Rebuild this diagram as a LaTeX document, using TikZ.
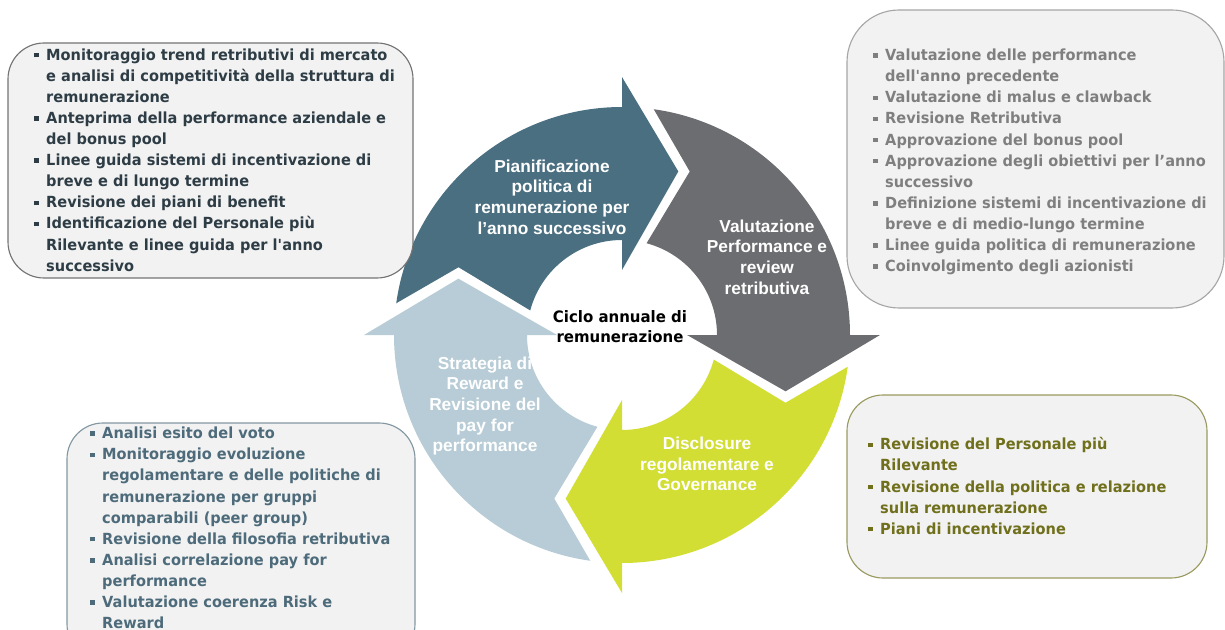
\documentclass[tikz,border=0pt]{standalone}
\usepackage{fontspec}
\setmainfont{Liberation Sans}
\newfontfamily\tahoma{DejaVu Sans}[FakeStretch=0.95]
\usepackage{tikz}
\usetikzlibrary{positioning}

\definecolor{cteal}{HTML}{4A6F81}
\definecolor{cgray}{HTML}{6C6D70}
\definecolor{cyellow}{HTML}{D3DE34}
\definecolor{cblue}{HTML}{B7CCD6}
\definecolor{panelfill}{HTML}{F2F2F2}
\definecolor{tltext}{HTML}{2E3D45}
\definecolor{trtext}{HTML}{7F7F7F}
\definecolor{bltext}{HTML}{4D6B7A}
\definecolor{brtext}{HTML}{6F6F1C}

\newcommand{\bl}{\makebox[8.5pt][l]{\rule[2pt]{3.2pt}{3.2pt}}}
\newcommand{\ind}{\hspace*{8.5pt}}

\tikzset{
  panel/.style={fill=panelfill, line width=0.8pt, rounded corners=0.9cm},
  bultext/.style={font={\tahoma\bfseries\fontsize{10.9}{15}\selectfont},
    align=left, inner sep=0pt, anchor=west},
  arrowtext/.style={text=white, align=center, inner sep=0pt,
    font={\bfseries\fontsize{12.3}{14.7}\selectfont}}
}

\begin{document}
\begin{tikzpicture}[x=0.025cm,y=-0.025cm]
\useasboundingbox (0,0) rectangle (1225,630);

% the cycle
\begin{scope}[shift={(622,335)},yscale=-1]
\foreach \a/\col in {180/cteal,90/cgray,0/cyellow,-90/cblue}
  \fill[\col] ({\a-8}:228) arc[start angle=\a-8, end angle=\a-90, radius=228]
    -- ({\a-90}:258) -- ({\a-109}:173) -- ({\a-90}:65) -- ({\a-90}:95)
    arc[start angle=\a-90, end angle=\a-15, radius=95]
    -- ({\a-22.5}:177) -- cycle;
\end{scope}

\node[arrowtext] (plan) at (552,197)
  {Pianificazione\\politica di\\remunerazione per\\l’anno successivo};
\node[arrowtext] (valut) at (767,257)
  {Valutazione\\Performance e\\review\\retributiva};
\node[arrowtext] (discl) at (707,464)
  {Disclosure\\regolamentare e\\Governance};
\node[arrowtext] (strat) at (485,406)
  {Strategia di\\Reward e\\Revisione del\\pay for\\performance};
\node[align=center, inner sep=0pt, font={\tahoma\bfseries\fontsize{11.2}{14.2}\selectfont}]
  (ciclo) at (620,327) {Ciclo annuale di\\remunerazione};

% panels
\draw[panel, draw=black!55] (8,43) rectangle (413,278);
\draw[panel, draw=black!35, rounded corners=1.3cm] (847,10) rectangle (1224,308);
\draw[panel, draw=bltext!70] (67,423) rectangle (415,660);
\draw[panel, draw=brtext!70] (847,395) rectangle (1207,578);

\node[bultext, text=tltext] (prima) at (34,160)
  {\bl Monitoraggio trend retributivi di mercato\\
   \ind e analisi di competitività della struttura di\\
   \ind remunerazione\\
   \bl Anteprima della performance aziendale e\\
   \ind del bonus pool\\
   \bl Linee guida sistemi di incentivazione di\\
   \ind breve e di lungo termine\\
   \bl Revisione dei piani di benefit\\
   \bl Identificazione del Personale più\\
   \ind Rilevante e linee guida per l\textquotesingle anno\\
   \ind successivo};
\node[bultext, text=trtext] (dopo) at (873,162)
  {\bl Valutazione delle performance\\
   \ind dell\textquotesingle anno precedente\\
   \bl Valutazione di malus e clawback\\
   \bl Revisione Retributiva\\
   \bl Approvazione del bonus pool\\
   \bl Approvazione degli obiettivi per l’anno\\
   \ind successivo\\
   \bl Definizione sistemi di incentivazione di\\
   \ind breve e di medio-lungo termine\\
   \bl Linee guida politica di remunerazione\\
   \bl Coinvolgimento degli azionisti};
\node[bultext, text=bltext] (voto) at (90,528)
  {\bl Analisi esito del voto\\
   \bl Monitoraggio evoluzione\\
   \ind regolamentare e delle politiche di\\
   \ind remunerazione per gruppi\\
   \ind comparabili (peer group)\\
   \bl Revisione della filosofia retributiva\\
   \bl Analisi correlazione pay for\\
   \ind performance\\
   \bl Valutazione coerenza Risk e\\
   \ind Reward};
\node[bultext, text=brtext] (gov) at (868,486)
  {\bl Revisione del Personale più\\
   \ind Rilevante\\
   \bl Revisione della politica e relazione\\
   \ind sulla remunerazione\\
   \bl Piani di incentivazione};
\end{tikzpicture}
\end{document}
